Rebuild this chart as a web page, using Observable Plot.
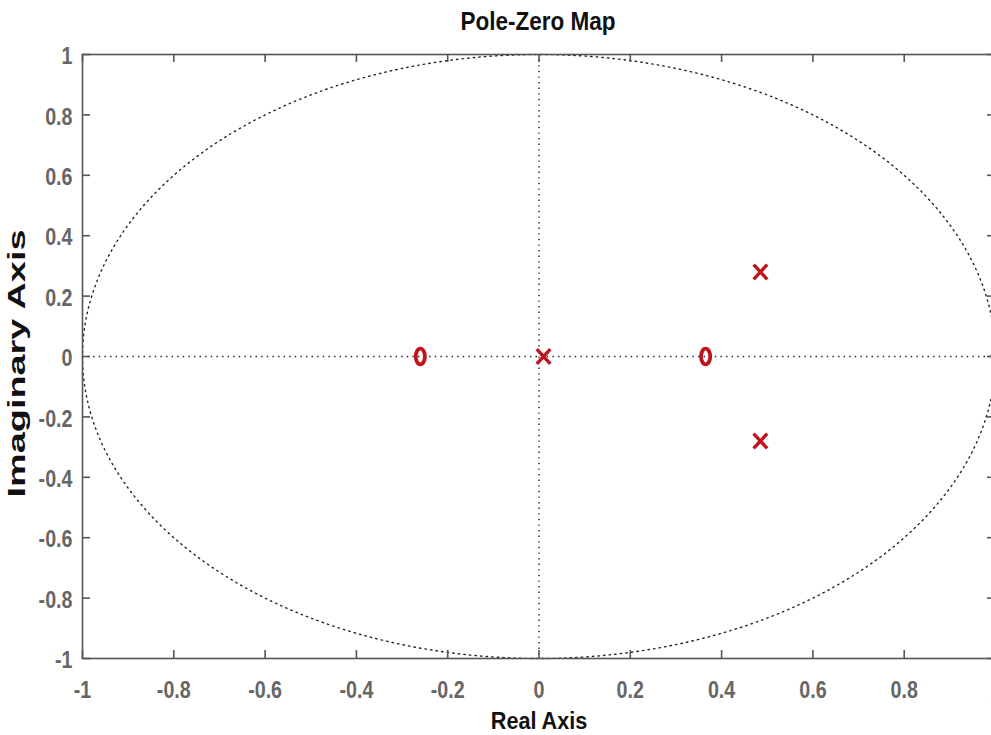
<!DOCTYPE html>
<html>
<head>
<meta charset="utf-8">
<script src="https://cdn.jsdelivr.net/npm/d3@7"></script>
<script src="https://cdn.jsdelivr.net/npm/@observablehq/plot@0.6"></script>
<style>
  body { margin: 0; background: #fff; }
  #wrap { width: 991px; height: 735px; overflow: hidden; position: relative; }
  #title { height: 44px; position: relative; }
  #title span {
    position: absolute; left: 538px; top: 9px; transform: translateX(-50%) scaleX(0.9);
    font: bold 25px/24px "Liberation Sans", Arial, sans-serif;
    color: #111; white-space: nowrap;
  }
</style>
</head>
<body>
<div id="wrap">
  <div id="title"><span>Pole-Zero Map</span></div>
  <div id="chart"></div>
</div>
<script>
// ---- data ----
const xTicks = [-1, -0.8, -0.6, -0.4, -0.2, 0, 0.2, 0.4, 0.6, 0.8, 1];
const xTickLabels = ["-1", "-0.8", "-0.6", "-0.4", "-0.2", "0", "0.2", "0.4", "0.6", "0.8", "1"];
const yTicks = [-1, -0.8, -0.6, -0.4, -0.2, 0, 0.2, 0.4, 0.6, 0.8, 1];
const yTickLabels = ["-1", "-0.8", "-0.6", "-0.4", "-0.2", "0", "0.2", "0.4", "0.6", "0.8", "1"];
const poleRe = [0.01, 0.485, 0.485];
const poleIm = [0, 0.28, -0.28];
const zeroRe = [-0.26, 0.365];
const zeroIm = [0, 0];
const xLabel = "Real Axis";
const yLabel = "Imaginary Axis";

// unit circle reference grid (geometric, not data)
const circleAngles = d3.range(0, 361, 1);
const unitCircle = circleAngles.map(a => ({re: Math.cos(a * Math.PI / 180), im: Math.sin(a * Math.PI / 180)}));

const poles = poleRe.map((re, i) => ({re, im: poleIm[i]}));
const zeros = zeroRe.map((re, i) => ({re, im: zeroIm[i]}));

// ---- custom symbols ----
const ellipseSymbol = {
  draw(ctx, size) {
    const rx = 4.6, ry = 7.8, k = 0.5523;
    ctx.moveTo(rx, 0);
    ctx.bezierCurveTo(rx, ry * k, rx * k, ry, 0, ry);
    ctx.bezierCurveTo(-rx * k, ry, -rx, ry * k, -rx, 0);
    ctx.bezierCurveTo(-rx, -ry * k, -rx * k, -ry, 0, -ry);
    ctx.bezierCurveTo(rx * k, -ry, rx, -ry * k, rx, 0);
    ctx.closePath();
  }
};
const crossSymbol = {
  draw(ctx, size) {
    const w = 6.8, h = 7.4;
    ctx.moveTo(-w, -h); ctx.lineTo(w, h);
    ctx.moveTo(w, -h); ctx.lineTo(-w, h);
  }
};

const W = 991, H = 691;
const mT = 10, mB = 77, mL = 82, mR = -4;
const frameH = H - mT - mB, frameW = W - mL - mR;
const fontSans = '"Liberation Sans", Arial, sans-serif';
const axisGray = "#555";
const labelGray = "#666";
const red = "#c0141c";
const dotted = "1.4,4.2";

const chart = Plot.plot({
  width: W, height: H,
  marginTop: mT, marginBottom: mB, marginLeft: mL, marginRight: mR,
  style: {fontFamily: fontSans, background: "#fff", overflow: "visible"},
  x: {domain: [-1, 1]},
  y: {domain: [-1, 1]},
  marks: [
    Plot.line(unitCircle, {x: "re", y: "im", stroke: "#222", strokeWidth: 1.4, strokeDasharray: dotted}),
    Plot.ruleX([0], {stroke: "#222", strokeWidth: 1.4, strokeDasharray: dotted}),
    Plot.ruleY([0], {stroke: "#222", strokeWidth: 1.4, strokeDasharray: dotted}),
    Plot.frame({stroke: axisGray, strokeWidth: 1.6}),
    // inward ticks
    Plot.ruleX(xTicks, {x: d => d, insetTop: frameH - 8, stroke: axisGray, strokeWidth: 1.6}),
    Plot.ruleX(xTicks, {x: d => d, insetBottom: frameH - 8, stroke: axisGray, strokeWidth: 1.6}),
    Plot.ruleY(yTicks, {y: d => d, insetRight: frameW - 8, stroke: axisGray, strokeWidth: 1.6}),
    Plot.ruleY(yTicks, {y: d => d, insetLeft: frameW - 8, stroke: axisGray, strokeWidth: 1.6}),
    Plot.axisX({anchor: "bottom", ticks: xTicks, tickFormat: (d, i) => xTickLabels[i], tickSize: 0, tickPadding: 22,
      fontSize: 24, fontWeight: "bold", fill: labelGray, label: null}),
    Plot.axisY({anchor: "left", ticks: yTicks, tickFormat: (d, i) => yTickLabels[i], tickSize: 0, tickPadding: 10,
      fontSize: 24, fontWeight: "bold", fill: labelGray, label: null, dy: 2}),
    Plot.text([xLabel], {frameAnchor: "bottom", dy: 70, lineAnchor: "bottom", fontSize: 24, fontWeight: "bold",
      fill: "#111"}),
    Plot.text([yLabel], {frameAnchor: "left", rotate: -90, dx: -74, dy: 141, lineAnchor: "top", textAnchor: "start",
      fontSize: 23, fontWeight: "bold", fill: "#111"}),
    // zeros and poles
    Plot.dot(zeros, {x: "re", y: "im", symbol: ellipseSymbol, stroke: red, strokeWidth: 3.8, fill: "none"}),
    Plot.dot(poles, {x: "re", y: "im", symbol: crossSymbol, stroke: red, strokeWidth: 3.4, fill: "none"})
  ]
});

document.getElementById("chart").appendChild(chart);

// narrow the tick labels and x label horizontally (Arial Narrow look)
d3.select(chart).selectAll("text").each(function() {
  const t = this.getAttribute("transform");
  if (this.textContent === yLabel) {
    this.setAttribute("textLength", 268);
    this.setAttribute("lengthAdjust", "spacingAndGlyphs");
  } else if (this.textContent === xLabel) {
    if (t) this.setAttribute("transform", t + " scale(0.9,1)");
  } else if (t) {
    this.setAttribute("transform", t + " scale(0.82,1)");
  }
});
</script>
</body>
</html>
